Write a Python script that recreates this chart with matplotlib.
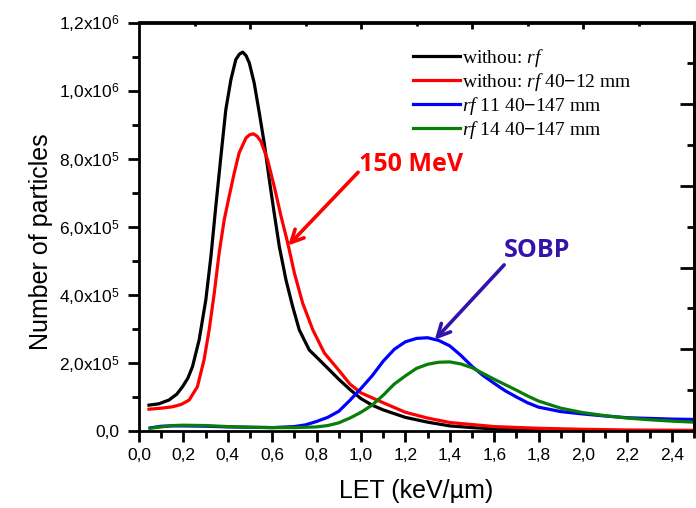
import matplotlib
matplotlib.use("Agg")
import matplotlib.pyplot as plt
from matplotlib.ticker import MultipleLocator, FixedLocator, FuncFormatter

plt.rcParams['font.family'] = ['Liberation Sans', 'DejaVu Sans']
plt.rcParams['mathtext.fontset'] = 'custom'
plt.rcParams['mathtext.rm'] = 'Liberation Sans'
plt.rcParams['mathtext.it'] = 'Liberation Serif:italic'

# LET spectra (number of particles vs LET in keV/um)
let_black = [0.045, 0.09, 0.135, 0.17, 0.196, 0.22, 0.241, 0.271, 0.301, 0.324, 0.346, 0.369,
             0.391, 0.414, 0.436, 0.452, 0.467, 0.482, 0.497, 0.519, 0.542, 0.564, 0.587, 0.609,
             0.632, 0.662, 0.692, 0.722, 0.767, 0.82, 0.86, 0.903, 0.95, 1.00, 1.05, 1.10,
             1.20, 1.30, 1.40, 1.50, 1.60, 1.80, 2.00, 2.20, 2.50]
n_black = [76e3, 80e3, 91e3, 108e3, 130e3, 155e3, 189e3, 268e3, 385e3, 513e3, 660e3, 807e3,
           944e3, 1032e3, 1091e3, 1107e3, 1113e3, 1103e3, 1081e3, 1022e3, 934e3, 846e3, 738e3, 640e3,
           542e3, 444e3, 366e3, 297e3, 238e3, 204e3, 178e3, 150e3, 122e3, 95e3, 76e3, 62e3,
           40e3, 26e3, 15e3, 10e3, 6e3, 3e3, 1.5e3, 1e3, 0.5e3]

let_red = [0.045, 0.10, 0.15, 0.19, 0.226, 0.263, 0.293, 0.316, 0.339, 0.361, 0.384, 0.406,
           0.429, 0.451, 0.482, 0.498, 0.515, 0.532, 0.549, 0.579, 0.609, 0.640, 0.670, 0.700,
           0.737, 0.783, 0.835, 0.903, 0.95, 1.00, 1.10, 1.20, 1.30, 1.40, 1.60, 1.80,
           2.00, 2.20, 2.50]
n_red = [64e3, 67e3, 71e3, 78e3, 91e3, 130e3, 209e3, 297e3, 405e3, 523e3, 621e3, 689e3,
         758e3, 817e3, 861e3, 870e3, 873e3, 866e3, 851e3, 797e3, 719e3, 630e3, 552e3, 464e3,
         376e3, 297e3, 229e3, 176e3, 138e3, 112e3, 83e3, 55e3, 38e3, 25e3, 13e3, 8e3,
         5e3, 3e3, 2e3]

let_blue = [0.05, 0.10, 0.15, 0.20, 0.30, 0.40, 0.50, 0.60, 0.70, 0.75, 0.80, 0.85, 0.90,
            0.95, 1.00, 1.05, 1.10, 1.15, 1.20, 1.25, 1.30, 1.35, 1.40, 1.45, 1.50, 1.55,
            1.60, 1.65, 1.70, 1.75, 1.80, 1.90, 2.00, 2.10, 2.20, 2.30, 2.40, 2.50]
n_blue = [9e3, 14e3, 15e3, 15e3, 14e3, 12e3, 11e3, 10e3, 13e3, 18e3, 28e3, 40e3, 58e3,
          90e3, 125e3, 162e3, 205e3, 240e3, 262e3, 272e3, 274e3, 266e3, 250e3, 222e3, 190e3, 163e3,
          140e3, 118e3, 100e3, 83e3, 70e3, 57e3, 50e3, 44e3, 39e3, 37e3, 35e3, 34e3]

let_green = [0.05, 0.10, 0.15, 0.20, 0.30, 0.40, 0.50, 0.60, 0.70, 0.80, 0.85, 0.90,
             0.95, 1.00, 1.05, 1.10, 1.15, 1.20, 1.25, 1.30, 1.35, 1.40, 1.45, 1.50, 1.55,
             1.60, 1.65, 1.70, 1.75, 1.80, 1.90, 2.00, 2.10, 2.20, 2.30, 2.40, 2.50]
n_green = [8e3, 12e3, 16e3, 17e3, 16e3, 13e3, 11e3, 10e3, 10e3, 12e3, 16e3, 24e3,
           38e3, 55e3, 76e3, 105e3, 138e3, 162e3, 184e3, 196e3, 202e3, 203e3, 197e3, 186e3, 169e3,
           152e3, 136e3, 120e3, 103e3, 88e3, 67e3, 54e3, 45e3, 38e3, 33e3, 29e3, 26e3]

series_labels = [r"withou: $\mathit{rf}$",
                 r"withou: $\mathit{rf}$ 40$-$12 mm",
                 r"$\mathit{rf}$ 11 40$-$147 mm",
                 r"$\mathit{rf}$ 14 40$-$147 mm"]
series_colors = ['#000000', '#ff0000', '#0000ff', '#087d08']

fig = plt.figure(figsize=(6.96, 5.08), dpi=100)
ax = fig.add_axes([139 / 696, 1 - 431 / 508, (694 - 139) / 696, (431 - 22.5) / 508])

for (xs, ys), lab, col in zip([(let_black, n_black), (let_red, n_red),
                               (let_blue, n_blue), (let_green, n_green)],
                              series_labels, series_colors):
    ax.plot(xs, ys, color=col, lw=2.3, label=lab, solid_joinstyle='round')

ax.set_xlim(0, 2.5)
ax.set_ylim(0, 1.2e6)

for s in ax.spines.values():
    s.set_linewidth(2.0)

ax.xaxis.set_major_locator(MultipleLocator(0.2))
ax.xaxis.set_minor_locator(MultipleLocator(0.1))
ax.yaxis.set_major_locator(MultipleLocator(2e5))
ax.yaxis.set_minor_locator(MultipleLocator(1e5))
ax.xaxis.set_major_formatter(FuncFormatter(lambda v, p: f"{v:.1f}".replace('.', ',')))


def sci_comma(v, p):
    if abs(v) < 1:
        return "0,0"
    exp = 0
    m = v
    while m >= 10:
        m /= 10
        exp += 1
    return f"{m:.1f}".replace('.', ',') + "x10$^{%d}$" % exp


ax.yaxis.set_major_formatter(FuncFormatter(sci_comma))
ax.tick_params(which='major', direction='out', length=8, width=2, labelsize=12.5)
ax.tick_params(axis='y', which='major', pad=6)
ax.tick_params(axis='x', which='major', pad=4)
ax.tick_params(which='minor', direction='out', length=5, width=2)

# mirrored, unlabeled ticks on the top and right frame
top = ax.secondary_xaxis('top')
top.xaxis.set_major_locator(FixedLocator([0.5, 1.0, 1.5, 2.0]))
top.xaxis.set_minor_locator(FixedLocator([0.25, 0.75, 1.25, 1.75, 2.25]))
top.tick_params(which='major', direction='in', length=5, width=2, labeltop=False)
top.tick_params(which='minor', direction='in', length=3, width=2)
top.spines['top'].set_linewidth(2.0)

right = ax.secondary_yaxis('right')
right.yaxis.set_major_locator(FixedLocator([2.4e5, 4.8e5, 7.2e5, 9.6e5]))
right.yaxis.set_minor_locator(FixedLocator([1.2e5, 3.6e5, 6.0e5, 8.4e5, 10.8e5]))
right.tick_params(which='major', direction='in', length=10, width=2, labelright=False)
right.tick_params(which='minor', direction='in', length=5, width=2)
right.spines['right'].set_linewidth(2.0)

ax.set_xlabel("LET (keV/\u00b5m)", fontsize=18, labelpad=12)
ax.set_ylabel("Number of particles", fontsize=18, labelpad=4, y=0.463)

leg = ax.legend(loc='upper left', bbox_to_anchor=(0.494, 0.94), frameon=False,
                prop={'family': 'Liberation Serif', 'size': 14},
                handlelength=2.4, handletextpad=0.1, labelspacing=0.1,
                borderpad=0, borderaxespad=0)
for line in leg.get_lines():
    line.set_linewidth(2.3)

# annotation arrows and labels
arrow_style = dict(arrowstyle='->,head_length=0.9,head_width=0.45',
                   lw=2.6, shrinkA=0, shrinkB=0)
ax.annotate("", xy=(0.672, 5.45e5), xytext=(0.987, 7.6e5),
            arrowprops=dict(color='#ff0000', **arrow_style))
ax.text(0.993, 7.82e5, "150 MeV", color='#ff0000', fontsize=18, fontweight='bold',
        family='Open Sans', va='center', ha='left')
ax.annotate("", xy=(1.332, 2.68e5), xytext=(1.645, 4.88e5),
            arrowprops=dict(color='#3414a8', **arrow_style))
ax.text(1.645, 5.29e5, "SOBP", color='#3414a8', fontsize=18, fontweight='bold',
        family='Open Sans', va='center', ha='left')

fig.savefig("out.png", dpi=100)
